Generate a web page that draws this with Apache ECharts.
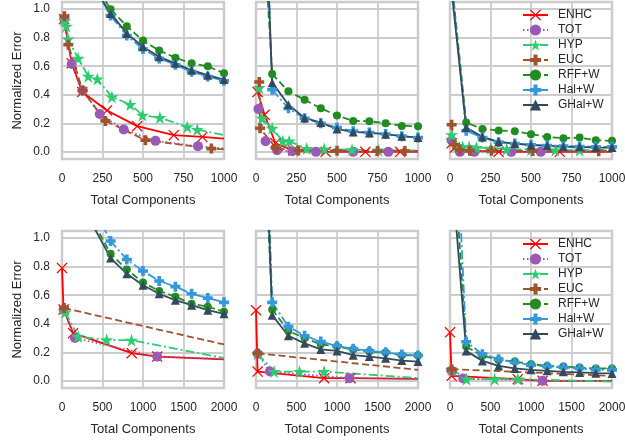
<!DOCTYPE html>
<html>
<head>
<meta charset="utf-8">
<script src="https://cdn.jsdelivr.net/npm/echarts@6/dist/echarts.min.js"></script>
<style>
html, body { margin: 0; padding: 0; background: #fff; }
#chart { width: 625px; height: 440px; }
</style>
</head>
<body>
<div id="chart"></div>
<script>
const names = ['ENHC', 'TOT', 'HYP', 'EUC', 'RFF+W', 'Hal+W', 'GHal+W'];
const yTicks = [0, 0.2, 0.4, 0.6, 0.8, 1.0];
const xTicksTop = [0, 250, 500, 750, 1000];
const xTicksBottom = [0, 500, 1000, 1500, 2000];

// top row, left panel
const tl_enhc = [[12, 0.93], [60, 0.62], [125, 0.42], [278, 0.29], [464, 0.18], [690, 0.117], [866, 0.105], [1000, 0.093]];
const tl_tot = [[15, 0.93], [60, 0.615], [127, 0.43], [233, 0.265], [381, 0.157], [577, 0.077], [839, 0.04], [1000, 0.025]];
const tl_hyp = [[15, 0.92], [27, 0.88], [37, 0.79], [100, 0.655], [162, 0.53], [218, 0.51], [308, 0.385], [421, 0.332], [497, 0.257], [604, 0.24], [773, 0.175], [835, 0.157], [1000, 0.117]];
const tl_euc = [[15, 0.95], [39, 0.75], [127, 0.43], [268, 0.217], [515, 0.082], [922, 0.023], [1000, 0.018]];
const tl_rff = [[200, 1.18], [300, 1.0], [400, 0.88], [500, 0.78], [600, 0.71], [700, 0.66], [800, 0.62], [900, 0.6], [1000, 0.55]];
const tl_hal = [[200, 1.15], [300, 0.955], [400, 0.815], [500, 0.72], [600, 0.655], [700, 0.61], [800, 0.562], [900, 0.528], [1000, 0.498]];
const tl_ghal = [[200, 1.15], [300, 0.97], [400, 0.83], [500, 0.736], [600, 0.666], [700, 0.62], [800, 0.572], [900, 0.537], [1000, 0.507]];

// top row, middle panel
const tm_enhc = [[10, 0.42], [53, 0.26], [120, 0.06], [230, 0.01], [430, 0.0], [675, 0.0], [890, 0.0], [1000, 0.0]];
const tm_tot = [[15, 0.3], [59, 0.075], [130, 0.012], [224, 0.005], [370, 0.0], [600, 0.0], [817, 0.0], [1000, 0.0]];
const tm_hyp = [[20, 0.45], [37, 0.235], [100, 0.165], [165, 0.075], [205, 0.075], [313, 0.023], [421, 0.02], [593, 0.015], [756, 0.012], [1000, 0.01]];
const tm_euc = [[20, 0.49], [25, 0.165], [125, 0.025], [262, 0.01], [500, 0.008], [750, 0.006], [919, 0.006], [1000, 0.006]];
const tm_rff = [[50, 1.5], [100, 0.545], [200, 0.425], [300, 0.365], [400, 0.305], [500, 0.255], [600, 0.217], [700, 0.215], [800, 0.2], [900, 0.182], [1000, 0.18]];
const tm_hal = [[50, 2.1], [100, 0.435], [200, 0.305], [300, 0.235], [400, 0.2], [500, 0.17], [600, 0.145], [700, 0.135], [800, 0.125], [900, 0.11], [1000, 0.1]];
const tm_ghal = [[50, 1.96], [100, 0.485], [200, 0.33], [300, 0.238], [400, 0.205], [500, 0.16], [600, 0.14], [700, 0.133], [800, 0.124], [900, 0.11], [1000, 0.1]];

// top row, right panel
const tr_enhc = [[10, 0.06], [30, 0.03], [100, 0.01], [300, 0.0], [678, 0.0], [1000, 0.0]];
const tr_tot = [[10, 0.08], [61, 0.0], [150, 0.0], [378, 0.0], [560, 0.0], [1000, 0.0]];
const tr_hyp = [[10, 0.12], [40, 0.045], [78, 0.035], [118, 0.035], [163, 0.03], [252, 0.025], [350, 0.02], [500, 0.015], [650, 0.012], [800, 0.012], [1000, 0.01]];
const tr_euc = [[10, 0.19], [25, 0.05], [60, 0.015], [122, 0.008], [255, 0.008], [510, 0.006], [918, 0.005], [1000, 0.005]];
const tr_rff = [[10, 1.2], [100, 0.205], [200, 0.16], [300, 0.15], [400, 0.145], [500, 0.124], [600, 0.105], [700, 0.095], [800, 0.1], [900, 0.082], [1000, 0.077]];
const tr_hal = [[10, 1.19], [100, 0.148], [200, 0.1], [300, 0.068], [400, 0.058], [500, 0.05], [600, 0.045], [700, 0.04], [800, 0.038], [900, 0.035], [1000, 0.035]];
const tr_ghal = [[10, 1.13], [100, 0.17], [200, 0.105], [300, 0.07], [400, 0.058], [500, 0.047], [600, 0.042], [700, 0.035], [800, 0.035], [900, 0.03], [1000, 0.03]];

// bottom row, left panel
const bl_enhc = [[0, 0.79], [20, 0.5], [137, 0.334], [861, 0.194], [1175, 0.17], [2000, 0.15]];
const bl_tot = [[20, 0.5], [160, 0.3], [1175, 0.17], [2000, 0.155]];
const bl_hyp = [[40, 0.48], [199, 0.31], [551, 0.287], [858, 0.285], [2000, 0.16]];
const bl_euc = [[25, 0.51], [2000, 0.255]];
const bl_rff = [[200, 1.6], [400, 1.1], [600, 0.89], [800, 0.78], [1000, 0.69], [1200, 0.63], [1400, 0.59], [1600, 0.54], [1800, 0.52], [2000, 0.485]];
const bl_hal = [[200, 1.9], [400, 1.2], [600, 0.98], [800, 0.85], [1000, 0.77], [1200, 0.7], [1400, 0.66], [1600, 0.61], [1800, 0.58], [2000, 0.55]];
const bl_ghal = [[200, 1.6], [400, 1.07], [600, 0.86], [800, 0.75], [1000, 0.67], [1200, 0.61], [1400, 0.565], [1600, 0.53], [1800, 0.495], [2000, 0.47]];

// bottom row, middle panel
const bm_enhc = [[0, 0.495], [20, 0.065], [841, 0.019], [1167, 0.019], [2000, 0.014]];
const bm_tot = [[20, 0.19], [171, 0.065], [1155, 0.019], [2000, 0.014]];
const bm_hyp = [[20, 0.19], [224, 0.065], [537, 0.065], [841, 0.065], [2000, 0.02]];
const bm_euc = [[20, 0.193], [2000, 0.077]];
const bm_rff = [[0, 3.0], [200, 0.5], [400, 0.35], [600, 0.3], [800, 0.256], [1000, 0.24], [1200, 0.22], [1400, 0.205], [1600, 0.198], [1800, 0.18], [2000, 0.177]];
const bm_hal = [[0, 4.0], [200, 0.55], [400, 0.38], [600, 0.316], [800, 0.275], [1000, 0.245], [1200, 0.225], [1400, 0.21], [1600, 0.2], [1800, 0.185], [2000, 0.178]];
const bm_ghal = [[0, 3.6], [200, 0.46], [400, 0.316], [600, 0.263], [800, 0.22], [1000, 0.21], [1200, 0.18], [1400, 0.17], [1600, 0.158], [1800, 0.142], [2000, 0.135]];

// bottom row, right panel
const br_enhc = [[0, 0.34], [20, 0.035], [837, 0.012], [1143, 0.0], [2000, 0.0]];
const br_tot = [[20, 0.07], [163, 0.016], [1143, 0.0], [2000, 0.0]];
const br_hyp = [[20, 0.08], [204, 0.012], [551, 0.012], [837, 0.012], [2000, -0.005]];
const br_euc = [[20, 0.082], [2000, 0.035]];
const br_rff = [[0, 2.0], [200, 0.24], [400, 0.176], [600, 0.147], [800, 0.136], [1000, 0.117], [1200, 0.105], [1400, 0.1], [1600, 0.094], [1800, 0.087], [2000, 0.087]];
const br_hal = [[0, 2.7], [200, 0.274], [400, 0.187], [600, 0.152], [800, 0.129], [1000, 0.11], [1200, 0.1], [1400, 0.094], [1600, 0.087], [1800, 0.077], [2000, 0.077]];
const br_ghal = [[0, 1.63], [200, 0.21], [400, 0.14], [600, 0.105], [800, 0.087], [1000, 0.077], [1200, 0.07], [1400, 0.063], [1600, 0.059], [1800, 0.054], [2000, 0.052]];

const panels = [
    { row: 0, col: 0, xmax: 1000, xticks: xTicksTop, lines: [tl_enhc, tl_tot, tl_hyp, tl_euc, tl_rff, tl_hal, tl_ghal] },
    { row: 0, col: 1, xmax: 1000, xticks: xTicksTop, lines: [tm_enhc, tm_tot, tm_hyp, tm_euc, tm_rff, tm_hal, tm_ghal] },
    { row: 0, col: 2, xmax: 1000, xticks: xTicksTop, lines: [tr_enhc, tr_tot, tr_hyp, tr_euc, tr_rff, tr_hal, tr_ghal] },
    { row: 1, col: 0, xmax: 2000, xticks: xTicksBottom, lines: [bl_enhc, bl_tot, bl_hyp, bl_euc, bl_rff, bl_hal, bl_ghal] },
    { row: 1, col: 1, xmax: 2000, xticks: xTicksBottom, lines: [bm_enhc, bm_tot, bm_hyp, bm_euc, bm_rff, bm_hal, bm_ghal] },
    { row: 1, col: 2, xmax: 2000, xticks: xTicksBottom, lines: [br_enhc, br_tot, br_hyp, br_euc, br_rff, br_hal, br_ghal] }
];

const X_MARK = 'path://M0,0.8 L0.8,0 L5,4.2 L9.2,0 L10,0.8 L5.8,5 L10,9.2 L9.2,10 L5,5.8 L0.8,10 L0,9.2 L4.2,5 Z';
const STAR = 'path://M50,0 L61.2,34.5 L97.6,34.5 L68.2,55.9 L79.4,90.5 L50,69.1 L20.6,90.5 L31.8,55.9 L2.4,34.5 L38.8,34.5 Z';
const PLUS = 'path://M3.2,0 H6.8 V3.2 H10 V6.8 H6.8 V10 H3.2 V6.8 H0 V3.2 H3.2 Z';

const looks = [
    { color: '#ff0000', dash: 'solid', symbol: X_MARK, size: 11 },
    { color: '#9b59b6', dash: [1.5, 2.5], symbol: 'circle', size: 10 },
    { color: '#2ecc71', dash: [9, 3, 2, 3], symbol: STAR, size: 13 },
    { color: '#a0522d', dash: [7, 3.5], symbol: PLUS, size: 10 },
    { color: '#228b22', dash: [7, 3.5], symbol: 'circle', size: 8 },
    { color: '#3498db', dash: [9, 3, 2, 3], symbol: PLUS, size: 10 },
    { color: '#34495e', dash: 'solid', symbol: 'triangle', size: 9 }
];

const FONT = 'Liberation Sans';
const TEXT = '#262626';
const lefts = [62, 256, 450];
const tops = [2, 231];

let chart = echarts.init(document.querySelector('#chart'));

let grids = [], xAxes = [], yAxes = [], series = [];

panels.forEach((p, i) => {
    grids.push({
        left: lefts[p.col], top: tops[p.row], width: 162, height: 157,
        show: true, borderColor: '#cccccc', borderWidth: 2.5,
        outerBoundsMode: 'none', containLabel: false
    });
    xAxes.push({
        type: 'value', gridIndex: i, min: 0, max: p.xmax,
        axisLine: { show: false },
        axisTick: { show: false, customValues: p.xticks },
        axisLabel: {
            customValues: p.xticks, color: TEXT, fontSize: 12, fontFamily: FONT, margin: 14,
            formatter: v => String(v)
        },
        splitLine: { show: true, lineStyle: { color: '#cccccc', width: 1.8 } },
        name: 'Total Components', nameLocation: 'middle', nameGap: 35,
        nameTextStyle: { color: TEXT, fontSize: 13, fontFamily: FONT }
    });
    yAxes.push({
        type: 'value', gridIndex: i, min: -0.05, max: 1.05,
        axisLine: { show: false },
        axisTick: { show: false, customValues: yTicks },
        axisLabel: {
            show: p.col === 0, customValues: yTicks, color: TEXT, fontSize: 12, fontFamily: FONT, margin: 12,
            formatter: v => v.toFixed(1)
        },
        splitLine: { show: true, lineStyle: { color: '#cccccc', width: 1.8 } },
        name: p.col === 0 ? 'Normalized Error' : '', nameLocation: 'middle', nameGap: 38,
        nameTextStyle: { color: TEXT, fontSize: 13, fontFamily: FONT }
    });
    p.lines.forEach((pts, k) => {
        let look = looks[k];
        series.push({
            type: 'line', name: names[k], xAxisIndex: i, yAxisIndex: i,
            // the first four lines end without a marker at the right edge
            data: pts.map((pt, j) => (k < 4 && j === pts.length - 1) ? { value: pt, symbol: 'none' } : pt),
            symbol: look.symbol, symbolSize: look.size, showSymbol: true,
            lineStyle: { color: look.color, width: 1.8, type: look.dash },
            itemStyle: { color: look.color },
            clip: true, animation: false,
            emphasis: { disabled: true }
        });
    });
});

let option = {
    backgroundColor: '#ffffff',
    animation: false,
    grid: grids,
    xAxis: xAxes,
    yAxis: yAxes,
    legend: tops.map(t => ({
        data: names, orient: 'vertical', left: 522, top: t + 7, padding: 0,
        itemWidth: 25, itemHeight: 14, itemGap: 3, selectedMode: false,
        textStyle: { color: TEXT, fontSize: 12, fontFamily: FONT, padding: [0, 0, 0, 5] }
    })),
    series: series
};
chart.setOption(option);
</script>
</body>
</html>
